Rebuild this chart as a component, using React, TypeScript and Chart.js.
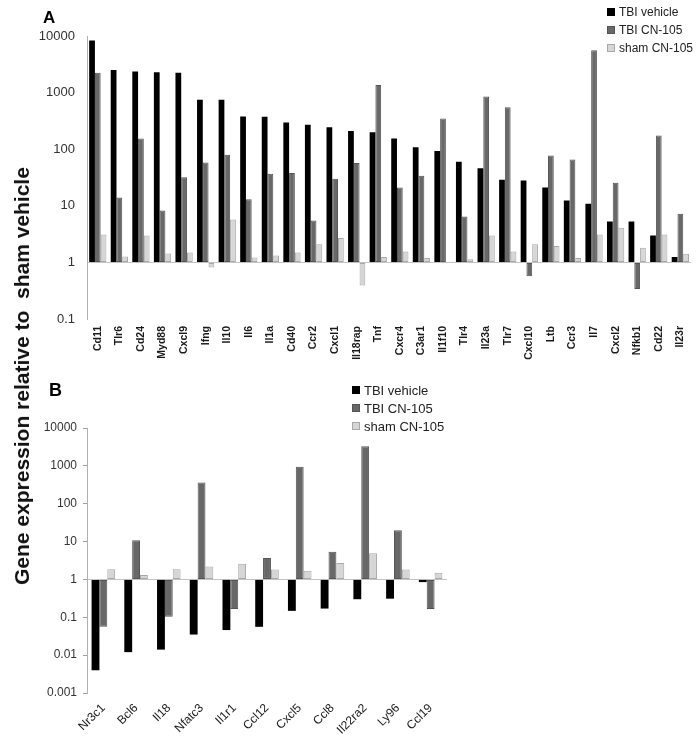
import React, { useEffect, useRef } from "react";
import { Chart, registerables } from "chart.js";

Chart.register(...registerables);

// ---------- Panel A data ----------
const catsA = [
  "Cd11", "Tlr6", "Cd24", "Myd88", "Cxcl9", "Ifng", "Il10", "Il6", "Il1a", "Cd40",
  "Ccr2", "Cxcl1", "Il18rap", "Tnf", "Cxcr4", "C3ar1", "Il1f10", "Tlr4", "Il23a", "Tlr7",
  "Cxcl10", "Ltb", "Ccr3", "Il7", "Cxcl2", "Nfkb1", "Cd22", "Il23r",
];
const tbiVehicleA = [
  8300, 2500, 2350, 2300, 2250, 750, 750, 380, 375, 295,
  270, 245, 210, 200, 155, 108, 93, 60, 46, 29,
  28, 21, 12.4, 10.9, 5.3, 5.3, 3.0, 1.24,
];
const tbiCn105A = [
  2240, 14, 155, 8.3, 32, 58, 80, 13, 37, 38,
  5.5, 30, 57, 1360, 21, 34, 350, 6.5, 850, 550,
  0.57, 77, 66, 5600, 25.5, 0.34, 174, 7.2,
];
const shamCn105A = [
  3.1, 1.27, 3.0, 1.44, 1.5, 0.81, 5.7, 1.22, 1.33, 1.5,
  2.1, 2.7, 0.39, 1.24, 1.56, 1.19, 1.02, 1.14, 3.0, 1.56,
  2.1, 1.94, 1.2, 3.1, 4.1, 1.82, 3.1, 1.42,
];
const yTicksA = [0.1, 1, 10, 100, 1000, 10000];

// ---------- Panel B data ----------
const catsB = ["Nr3c1", "Bcl6", "Il18", "Nfatc3", "Il1r1", "Ccl12", "Cxcl5", "Ccl8", "Il22ra2", "Ly96", "Ccl19"];
const tbiVehicleB = [0.004, 0.012, 0.014, 0.035, 0.046, 0.056, 0.148, 0.17, 0.3, 0.31, 0.85];
const tbiCn105B = [0.056, 10.9, 0.103, 362, 0.165, 3.7, 940, 5.35, 3300, 20, 0.165];
const shamCn105B = [1.87, 1.3, 1.87, 2.2, 2.6, 1.83, 1.69, 2.7, 4.9, 1.84, 1.49];
const yTicksB = [0.001, 0.01, 0.1, 1, 10, 100, 1000, 10000];

const seriesNames = ["TBI vehicle", "TBI CN-105", "sham CN-105"];
const FILL = ["#000000", "#686868", "#d6d6d6"];
const EDGE = ["#000000", "#555555", "#a8a8a8"];

const FONT = "'Liberation Sans', Arial, sans-serif";

function makeConfig(
  cats: string[],
  series: number[][],
  yTicks: number[],
  opts: {
    padding: { left: number; right: number; top: number; bottom: number };
    xHeight: number;
    yWidth: number;
    rotation: number;
    xFont: any;
    xPad: number;
    yFont: any;
    yPad: number;
    tickLen: number;
    catPct: number;
  }
): any {
  return {
    type: "bar",
    data: {
      labels: cats,
      datasets: series.map((vals, i) => ({
        label: seriesNames[i],
        data: vals,
        base: 1,
        backgroundColor: FILL[i],
        borderColor: EDGE[i],
        borderWidth: i === 0 ? 0 : 1,
        borderSkipped: false,
        barPercentage: 1,
        categoryPercentage: opts.catPct,
      })),
    },
    options: {
      responsive: false,
      animation: false,
      devicePixelRatio: 1,
      layout: { padding: opts.padding },
      plugins: { legend: { display: false }, tooltip: { enabled: false } },
      scales: {
        x: {
          type: "category",
          grid: { display: false, drawTicks: false },
          border: { display: false },
          ticks: {
            autoSkip: false,
            minRotation: opts.rotation,
            maxRotation: opts.rotation,
            padding: opts.xPad,
            color: "#1a1a1a",
            font: opts.xFont,
          },
          afterFit: (s: any) => {
            s.height = opts.xHeight;
          },
        },
        y: {
          type: "logarithmic",
          min: yTicks[0],
          max: yTicks[yTicks.length - 1],
          afterBuildTicks: (s: any) => {
            s.ticks = yTicks.map((v) => ({ value: v }));
          },
          afterFit: (s: any) => {
            s.width = opts.yWidth;
          },
          border: { display: true, color: "#b0b0b0", width: 1 },
          grid: {
            color: (ctx: any) => (ctx.tick && ctx.tick.value === 1 ? "#c4c4c4" : "rgba(0,0,0,0)"),
            tickColor: "#a0a0a0",
            drawTicks: opts.tickLen > 0,
            tickLength: opts.tickLen,
            lineWidth: 1,
          },
          ticks: {
            padding: opts.yPad,
            color: "#333",
            font: opts.yFont,
            callback: (v: any) => String(v),
          },
        },
      },
    },
  };
}

function Legend({ left, top, rowH, size }: { left: number; top: number; rowH: number; size: number }) {
  return (
    <div style={{ position: "absolute", left, top, fontFamily: FONT, fontSize: size, color: "#222" }}>
      {seriesNames.map((n, i) => (
        <div key={n} style={{ display: "flex", alignItems: "center", height: rowH, whiteSpace: "nowrap" }}>
          <span
            style={{
              display: "inline-block",
              width: 8,
              height: 8,
              background: FILL[i],
              border: i === 0 ? "none" : `1px solid ${EDGE[i]}`,
              boxSizing: "border-box",
              marginRight: 4,
            }}
          />
          <span>{n}</span>
        </div>
      ))}
    </div>
  );
}

export default function App() {
  const refA = useRef<HTMLCanvasElement>(null);
  const refB = useRef<HTMLCanvasElement>(null);

  useEffect(() => {
    const a = new Chart(
      refA.current as HTMLCanvasElement,
      makeConfig(catsA, [tbiVehicleA, tbiCn105A, shamCn105A], yTicksA, {
        padding: { left: 0, right: 3, top: 36, bottom: 0 },
        xHeight: 56,
        yWidth: 87,
        rotation: 90,
        xFont: { family: FONT, size: 10.5, weight: "bold" },
        xPad: 7,
        yFont: { family: FONT, size: 13 },
        yPad: 12,
        tickLen: 0,
        catPct: 0.8,
      })
    );
    const b = new Chart(
      refB.current as HTMLCanvasElement,
      makeConfig(catsB, [tbiVehicleB, tbiCn105B, shamCn105B], yTicksB, {
        padding: { left: 0, right: 253, top: 53, bottom: 0 },
        xHeight: 48,
        yWidth: 87,
        rotation: 45,
        xFont: { family: FONT, size: 12 },
        xPad: 8,
        yFont: { family: FONT, size: 12 },
        yPad: 6,
        tickLen: 4,
        catPct: 0.72,
      })
    );
    return () => {
      a.destroy();
      b.destroy();
    };
  }, []);

  return (
    <div style={{ position: "absolute", left: 0, top: 0, width: 700, height: 741, background: "#fff", overflow: "hidden" }}>
      <canvas ref={refA} width={700} height={375} style={{ position: "absolute", left: 0, top: 0 }} />
      <canvas ref={refB} width={700} height={366} style={{ position: "absolute", left: 0, top: 375 }} />
      <div
        style={{
          position: "absolute",
          left: 22,
          top: 376,
          transform: "translate(-50%, -50%) rotate(-90deg)",
          fontFamily: FONT,
          fontWeight: "bold",
          fontSize: 21,
          whiteSpace: "pre",
          color: "#111",
        }}
      >
        {"Gene expression relative to  sham vehicle"}
      </div>
      <div style={{ position: "absolute", left: 43, top: 8, fontFamily: FONT, fontWeight: "bold", fontSize: 17 }}>A</div>
      <div style={{ position: "absolute", left: 49, top: 380, fontFamily: FONT, fontWeight: "bold", fontSize: 18 }}>B</div>
      <Legend left={607} top={3} rowH={18} size={12} />
      <Legend left={352} top={381} rowH={18} size={13} />
    </div>
  );
}
